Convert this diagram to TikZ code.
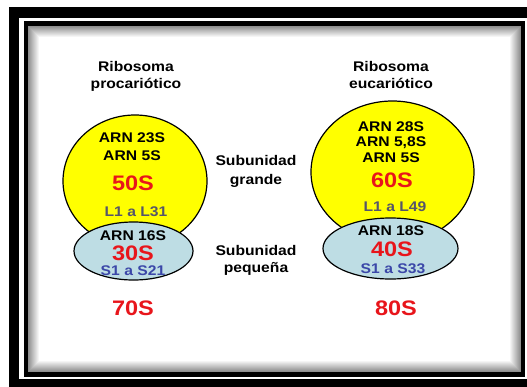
\documentclass[tikz,border=0pt]{standalone}
\usepackage{fontspec}
\newfontfamily\arialFont{Liberation Sans}[FakeStretch=1.12]
\usepackage{tikz}
\usetikzlibrary{shapes}
\definecolor{ribYellow}{HTML}{FFFF00}
\definecolor{ribBlue}{HTML}{BEDDE4}
\definecolor{ribRed}{HTML}{E8151B}
\definecolor{ribGray}{HTML}{55556A}
\definecolor{ribNavy}{HTML}{3B47A8}
\tikzset{myTxt/.style={anchor=base, inner sep=0pt, font=\arialFont\bfseries\fontsize{14}{16}\selectfont}}
\tikzset{myTxtBig/.style={anchor=base, inner sep=0pt, text=ribRed, font=\arialFont\bfseries\fontsize{21}{24}\selectfont}}
\tikzset{myEllLarge/.style={draw, line width=1.2pt, ellipse, inner sep=0pt, fill=ribYellow}}
\tikzset{myEllSmall/.style={draw, line width=1.2pt, ellipse, inner sep=0pt, fill=ribBlue}}

\begin{document}
\begin{tikzpicture}[x=1pt, y=-1pt]

\useasboundingbox (0,0) rectangle (527,386);
\clip (0,0) rectangle (527,386);

% frame
\fill[black] (9,7) rectangle (540,400);
\fill[white] (19.3,18.3) rectangle (540,378.7);
\draw[line width=4.3pt] (26,23.6) rectangle (522.8,374.5);
\foreach \i in {0,...,12} {
  \pgfmathtruncatemacro{\shade}{44-4*\i}
  \pgfmathtruncatemacro{\shade}{max(\shade,0)}
  \fill[black!\shade] (28.1+\i, 25.8+\i) rectangle (520.7-\i, 372.4-\i);
}

% prokaryote
\node[myTxt] (riboP) at (136, 71) {Ribosoma};
\node[myTxt] (riboPb) at (136, 88.3) {procariótico};

\node[myEllLarge, minimum width=144pt, minimum height=132pt] (grandeP) at (135, 181) {};
\node[myEllSmall, minimum width=119pt, minimum height=58pt] (pequenaP) at (133.5, 251) {};

\node[myTxt] (arnP1) at (132, 142.7) {ARN 23S};
\node[myTxt] (arnP2) at (132, 160) {ARN 5S};
\node[myTxtBig] (sedP1) at (133, 190.7) {50S};
\node[myTxt, text=ribGray] (protP1) at (136, 216.7) {L1 a L31};
\node[myTxt] (arnP3) at (133, 240.7) {ARN 16S};
\node[myTxtBig] (sedP2) at (133, 260.5) {30S};
\node[myTxt, text=ribNavy] (protP2) at (133, 275) {S1 a S21};
\node[myTxtBig] (totalP) at (133, 315) {70S};

% middle
\node[myTxt] (subG) at (256, 165.7) {Subunidad};
\node[myTxt] (subGb) at (256, 184.3) {grande};
\node[myTxt] (subS) at (256, 255) {Subunidad};
\node[myTxt] (subSb) at (256, 272.7) {pequeña};

% eukaryote
\node[myTxt] (riboE) at (391, 71) {Ribosoma};
\node[myTxt] (riboEb) at (391, 88.3) {eucariótico};

\node[myEllLarge, minimum width=163pt, minimum height=142pt] (grandeE) at (392.5, 172) {};
\node[myEllSmall, minimum width=135pt, minimum height=61pt] (pequenaE) at (390.5, 248.5) {};

\node[myTxt] (arnE1) at (391, 131) {ARN 28S};
\node[myTxt] (arnE2) at (391, 146.7) {ARN 5,8S};
\node[myTxt] (arnE3) at (391, 162.7) {ARN 5S};
\node[myTxtBig] (sedE1) at (392, 187.3) {60S};
\node[myTxt, text=ribGray] (protE1) at (395, 211.7) {L1 a L49};
\node[myTxt] (arnE4) at (391, 235.7) {ARN 18S};
\node[myTxtBig] (sedE2) at (392, 256.2) {40S};
\node[myTxt, text=ribNavy] (protE2) at (393, 273.2) {S1 a S33};
\node[myTxtBig] (totalE) at (396, 315) {80S};

\end{tikzpicture}
\end{document}
